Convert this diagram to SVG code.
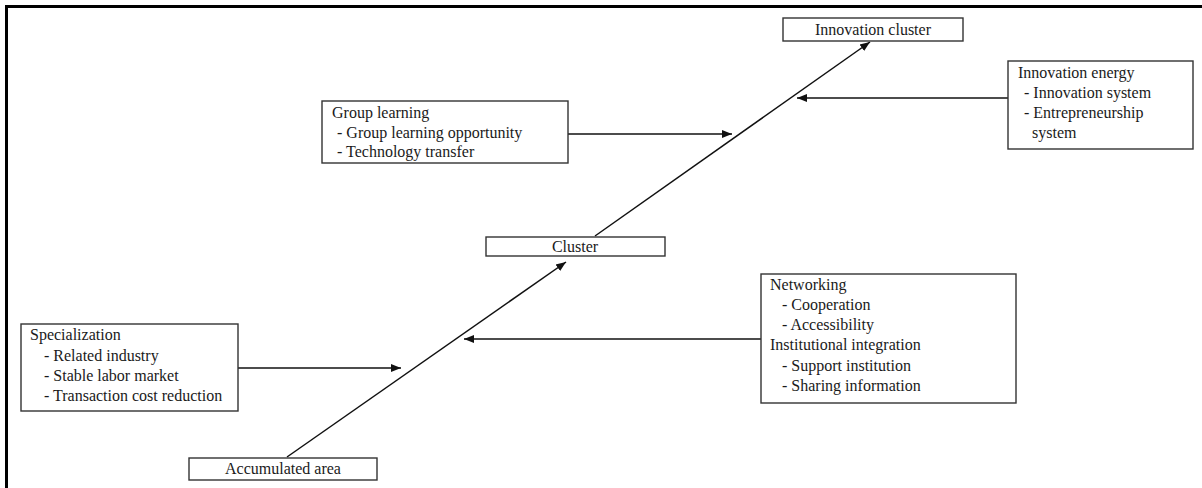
<svg xmlns="http://www.w3.org/2000/svg" width="1202" height="488" viewBox="0 0 1202 488">
<style>
.box{fill:#fff;stroke:#333;stroke-width:1.4}
text{font-family:"Liberation Serif","Times New Roman",serif;font-size:16px;fill:#1a1a1a}
.c{text-anchor:middle}
.conn{stroke:#111;stroke-width:1.5;fill:none;marker-end:url(#ah)}
</style>
<defs>
<marker id="ah" viewBox="0 0 10 10" refX="10" refY="5" markerWidth="10" markerHeight="10" markerUnits="userSpaceOnUse" orient="auto">
<path d="M0,1 L10,5 L0,9 Z" fill="#111"/>
</marker>
</defs>
<rect x="6.5" y="6.5" width="1210" height="500" fill="#fff" stroke="#000" stroke-width="3"/>
<g id="connectors">
<line class="conn" x1="595" y1="236" x2="870" y2="42"/>
<line class="conn" x1="287" y1="457" x2="566" y2="262"/>
<line class="conn" x1="1008" y1="98" x2="797" y2="98"/>
<line class="conn" x1="568" y1="134" x2="732" y2="134"/>
<line class="conn" x1="761" y1="339" x2="464" y2="339"/>
<line class="conn" x1="238" y1="368" x2="401" y2="368"/>
</g>
<g id="innovation-cluster">
<rect class="box" x="783" y="18" width="180" height="23"/>
<text class="c" x="873" y="35">Innovation cluster</text>
</g>
<g id="innovation-energy">
<rect class="box" x="1008" y="61" width="185" height="88"/>
<text x="1018" y="78">Innovation energy</text>
<text x="1024" y="98">- Innovation system</text>
<text x="1024" y="118">- Entrepreneurship</text>
<text x="1032" y="138">system</text>
</g>
<g id="group-learning">
<rect class="box" x="322" y="101" width="246" height="62"/>
<text x="332" y="118">Group learning</text>
<text x="337" y="138">- Group learning opportunity</text>
<text x="337" y="157">- Technology transfer</text>
</g>
<g id="cluster">
<rect class="box" x="486" y="237" width="179" height="19"/>
<text class="c" x="575" y="252">Cluster</text>
</g>
<g id="networking">
<rect class="box" x="761" y="274" width="255" height="129"/>
<text x="770" y="290">Networking</text>
<text x="782" y="310">- Cooperation</text>
<text x="782" y="330">- Accessibility</text>
<text x="770" y="350">Institutional integration</text>
<text x="782" y="371">- Support institution</text>
<text x="782" y="391">- Sharing information</text>
</g>
<g id="specialization">
<rect class="box" x="21" y="324" width="217" height="87"/>
<text x="30" y="340">Specialization</text>
<text x="44" y="361">- Related industry</text>
<text x="44" y="381">- Stable labor market</text>
<text x="44" y="401">- Transaction cost reduction</text>
</g>
<g id="accumulated-area">
<rect class="box" x="189" y="458" width="188" height="22"/>
<text class="c" x="283" y="474">Accumulated area</text>
</g>
</svg>
